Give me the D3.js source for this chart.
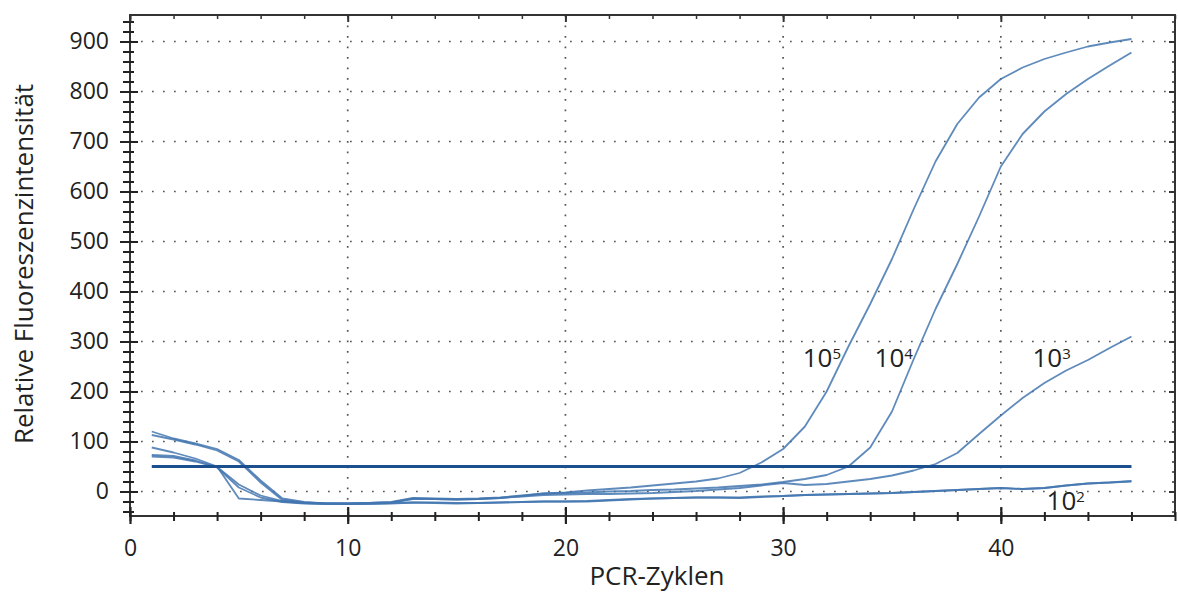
<!DOCTYPE html>
<html>
<head>
<meta charset="utf-8">
<script src="https://cdn.jsdelivr.net/npm/d3@7"></script>
<style>
  body { margin: 0; background: #fff; }
  svg text { font-family: "Open Sans", "Noto Sans", sans-serif; fill: #222; }
</style>
</head>
<body>
<svg id="chart" width="1178" height="593"></svg>
<script>
// Real-time PCR amplification curves, cycles 1..46
const cycles = d3.range(1, 47);

const curve1e5 = [88, 78, 66, 50, -14, -17, -20, -23, -24, -24, -23, -22, -14, -15, -16, -15, -13, -9, -4, -2,
  2, 5, 8, 12, 16, 20, 26, 37, 58, 85, 130, 200, 290, 375, 465, 565, 660, 735, 788, 825,
  848, 865, 878, 890, 898, 905];
const curve1e4 = [120, 106, 96, 85, 63, 22, -14, -21, -24, -24, -23, -21, -13, -14, -15, -14, -12, -8, -4, -3,
  -2, 0, 1, 3, 4, 6, 8, 11, 14, 19, 25, 33, 50, 88, 160, 265, 365, 455, 550, 650,
  715, 760, 795, 825, 852, 878];
const curve1e3 = [73, 71, 62, 49, 14, -8, -19, -23, -24, -24, -23, -22, -15, -15, -16, -15, -13, -10, -7, -6,
  -5, -5, -4, -3, -1, 1, 4, 7, 12, 17, 13, 15, 20, 25, 32, 42, 55, 77, 115, 152,
  187, 217, 242, 263, 287, 310];
const curve1e2 = [113, 104, 94, 82, 60, 18, -17, -22, -24, -25, -25, -24, -22, -22, -23, -23, -22, -21, -20, -20,
  -20, -18, -16, -14, -13, -12, -12, -13, -11, -9, -7, -6, -5, -4, -3, -1, 1, 3, 5, 7,
  5, 7, 12, 16, 18, 21];
const curveNtc = [70, 68, 60, 48, 8, -12, -21, -24, -25, -25, -24, -23, -22, -23, -24, -23, -22, -21, -20, -20,
  -19, -17, -15, -14, -13, -12, -12, -12, -10, -9, -7, -6, -5, -4, -3, -1, 1, 3, 5, 7,
  5, 7, 12, 16, 18, 20];

const seriesList = [curve1e5, curve1e4, curve1e3, curve1e2, curveNtc];

// Threshold level and the cycle span it is drawn over
const thresholdValue = 50;
const thresholdSpan = [1, 46];

// Tick values
const xMajorTicks = [0, 10, 20, 30, 40];
const xMinorTicks = d3.range(0, 49, 2);
const yMajorTicks = d3.range(0, 1000, 100);
const yMinorTicks = d3.range(-40, 960, 20);

// Curve labels: base, exponent, anchor [cycle, value]
const labelBase = "10";
const labelExponents = ["5", "4", "3", "2"];
const labelAnchors = [[30.9, 249], [34.2, 249], [41.45, 249], [42.1, -37]];

const xTitle = "PCR-Zyklen";
const yTitle = "Relative Fluoreszenzintensität";

// ---- layout
const svg = d3.select("#chart");
const plotLeft = 130, plotRight = 1175, plotTop = 15, plotBottom = 516;

const x = d3.scaleLinear().domain([0, 48]).range([plotLeft, plotRight]);
const y = d3.scaleLinear().domain([-49, 953]).range([plotBottom, plotTop]);

// grid
const grid = svg.append("g");
grid.selectAll("line.h").data(yMajorTicks).join("line")
  .attr("x1", plotLeft).attr("x2", plotRight)
  .attr("y1", d => y(d)).attr("y2", d => y(d))
  .attr("stroke", "#555").attr("stroke-width", 1.7)
  .attr("stroke-dasharray", "1.7,9.3");
grid.selectAll("line.v").data(xMajorTicks.filter(d => d > 0)).join("line")
  .attr("x1", d => x(d)).attr("x2", d => x(d))
  .attr("y1", plotTop).attr("y2", plotBottom)
  .attr("stroke", "#555").attr("stroke-width", 1.7)
  .attr("stroke-dasharray", "1.7,8.8");

// frame
svg.append("rect")
  .attr("x", plotLeft).attr("y", plotTop)
  .attr("width", plotRight - plotLeft).attr("height", plotBottom - plotTop)
  .attr("fill", "none").attr("stroke", "#333").attr("stroke-width", 2);

// left axis: labelled major ticks + minor ticks crossing the axis
const yAxisMinor = svg.append("g").attr("transform", `translate(${plotLeft},0)`)
  .call(d3.axisLeft(y).tickValues(yMinorTicks).tickSize(7).tickFormat(""));
yAxisMinor.selectAll(".tick line").attr("x1", 4).attr("stroke", "#222").attr("stroke-width", 2);
yAxisMinor.select(".domain").remove();

const yAxis = svg.append("g").attr("transform", `translate(${plotLeft},0)`)
  .call(d3.axisLeft(y).tickValues(yMajorTicks).tickSize(10).tickPadding(11));
yAxis.selectAll(".tick line").attr("x1", 8).attr("stroke", "#222").attr("stroke-width", 2);
yAxis.selectAll(".tick text").style("font-size", "23px").attr("fill", "#1c1c1c");
yAxis.select(".domain").remove();

// right axis: inward ticks
const yRight = svg.append("g").attr("transform", `translate(${plotRight},0)`)
  .call(d3.axisRight(y).tickValues(yMinorTicks).tickSize(-3).tickFormat(""));
yRight.selectAll(".tick line").attr("stroke", "#333").attr("stroke-width", 1.5);
yRight.select(".domain").remove();
const yRightMajor = svg.append("g").attr("transform", `translate(${plotRight},0)`)
  .call(d3.axisRight(y).tickValues(yMajorTicks).tickSize(-6).tickFormat(""));
yRightMajor.selectAll(".tick line").attr("stroke", "#333").attr("stroke-width", 2);
yRightMajor.select(".domain").remove();

// bottom axis
const xAxisMinor = svg.append("g").attr("transform", `translate(0,${plotBottom})`)
  .call(d3.axisBottom(x).tickValues(xMinorTicks).tickSize(5).tickFormat(""));
xAxisMinor.selectAll(".tick line").attr("y1", -4).attr("stroke", "#222").attr("stroke-width", 2);
xAxisMinor.select(".domain").remove();

const xAxis = svg.append("g").attr("transform", `translate(0,${plotBottom})`)
  .call(d3.axisBottom(x).tickValues(xMajorTicks).tickSize(8).tickPadding(16).tickFormat(d3.format("d")));
xAxis.selectAll(".tick line").attr("y1", -9).attr("stroke", "#222").attr("stroke-width", 2.2);
xAxis.selectAll(".tick text").style("font-size", "23px").attr("fill", "#1c1c1c");
xAxis.select(".domain").remove();

// top axis: inward ticks
const xTop = svg.append("g").attr("transform", `translate(0,${plotTop})`)
  .call(d3.axisTop(x).tickValues(xMinorTicks).tickSize(-4).tickFormat(""));
xTop.selectAll(".tick line").attr("stroke", "#333").attr("stroke-width", 1.5);
xTop.select(".domain").remove();
const xTopMajor = svg.append("g").attr("transform", `translate(0,${plotTop})`)
  .call(d3.axisTop(x).tickValues(xMajorTicks).tickSize(-7).tickFormat(""));
xTopMajor.selectAll(".tick line").attr("stroke", "#333").attr("stroke-width", 2);
xTopMajor.select(".domain").remove();

// amplification curves
const line = d3.line()
  .x((d, i) => x(cycles[i]))
  .y(d => y(d));

svg.append("g").selectAll("path").data(seriesList).join("path")
  .attr("d", line)
  .attr("fill", "none")
  .attr("stroke", "#4375b0")
  .attr("stroke-opacity", 0.85)
  .attr("stroke-width", 1.8)
  .attr("stroke-linejoin", "round");

// threshold
svg.append("line")
  .attr("x1", x(thresholdSpan[0])).attr("x2", x(thresholdSpan[1]))
  .attr("y1", y(thresholdValue)).attr("y2", y(thresholdValue))
  .attr("stroke", "#1c4f8e").attr("stroke-width", 3.2);

// curve labels
const lbl = svg.append("g").selectAll("text").data(labelExponents).join("text")
  .attr("x", (d, i) => x(labelAnchors[i][0]))
  .attr("y", (d, i) => y(labelAnchors[i][1]))
  .style("font-size", "26px")
  .attr("fill", "#222");
lbl.append("tspan").text(labelBase);
lbl.append("tspan").text(d => d).attr("dy", -8).style("font-size", "15px");

// axis titles
svg.append("text")
  .attr("x", 657).attr("y", 585)
  .attr("text-anchor", "middle")
  .style("font-size", "26px")
  .text(xTitle);

svg.append("text")
  .attr("transform", `translate(33,264) rotate(-90)`)
  .attr("text-anchor", "middle")
  .style("font-size", "26px")
  .text(yTitle);
</script>
</body>
</html>
